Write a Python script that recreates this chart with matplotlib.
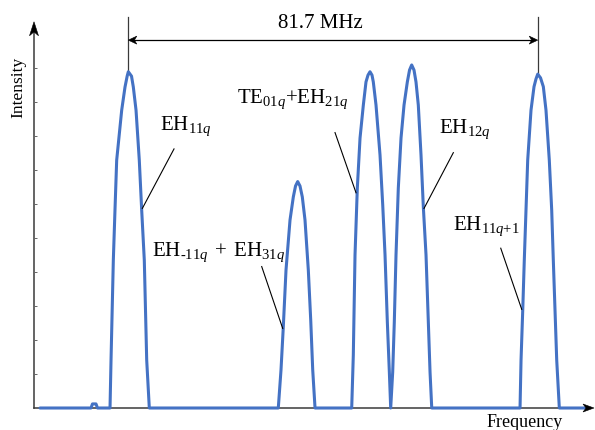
import numpy as np
import matplotlib
matplotlib.use("Agg")
import matplotlib.pyplot as plt
from matplotlib.patches import Polygon
from matplotlib.transforms import ScaledTranslation
from matplotlib.markers import TICKRIGHT

plt.rcParams["font.family"] = ["Liberation Serif", "DejaVu Serif"]
plt.rcParams["mathtext.fontset"] = "custom"
plt.rcParams["mathtext.rm"] = "Liberation Serif"
plt.rcParams["mathtext.it"] = "Liberation Serif:italic"
plt.rcParams["mathtext.bf"] = "Liberation Serif:bold"

# ---- transmission spectrum, frequency in MHz, intensity in a.u. ----
bump_freq = [11.37, 11.67, 12.37, 12.67]
bump_int = [0, 0.12, 0.12, 0]

p1_freq = [15.17, 15.37, 15.83, 16.16, 16.50, 17.50, 18.16, 18.59, 18.82,
           19.46, 19.82, 20.36, 21.01, 21.49, 22.01, 22.49, 23.01]
p1_int = [0, 1.41, 4.35, 5.82, 7.29, 8.76, 9.44, 9.76, 9.89,
          9.76, 9.44, 8.76, 7.29, 5.82, 4.35, 1.41, 0]

p2_freq = [48.75, 49.29, 49.75, 50.29, 51.09, 51.75, 52.19, 52.62,
           53.08, 53.54, 54.08, 54.74, 55.22, 55.62, 56.08]
p2_int = [0, 1.12, 2.39, 4.06, 5.53, 6.21, 6.53, 6.66,
          6.53, 6.21, 5.53, 4.06, 2.59, 1.12, 0]

p3_freq = [63.40, 63.72, 64.06, 64.52, 65.06, 65.72, 66.25, 66.65, 67.05,
           67.45, 67.71, 68.25, 69.05, 69.59, 70.05, 70.51, 70.91, 71.18]
p3_int = [0, 1.56, 4.50, 6.47, 7.94, 8.91, 9.59, 9.79, 9.89,
          9.79, 9.59, 8.91, 7.44, 5.97, 4.50, 2.53, 1.06, 0]

p4_freq = [71.18, 71.58, 71.90, 72.24, 72.70, 73.24, 73.84, 74.50, 74.94, 75.37,
           75.83, 76.23, 76.69, 77.23, 77.69, 78.23, 78.69, 79.03, 79.37]
p4_int = [0, 1.06, 2.53, 4.50, 6.47, 7.94, 8.91, 9.59, 9.94, 10.09,
          9.94, 9.59, 8.91, 7.44, 5.92, 4.50, 2.53, 1.06, 0]

p5_freq = [96.99, 97.19, 97.53, 97.84, 98.52, 99.18, 99.78, 100.18, 100.52,
           101.08, 101.64, 102.17, 102.83, 103.31, 103.63, 104.31, 104.83]
p5_int = [0, 1.41, 2.88, 4.35, 7.29, 8.76, 9.45, 9.68, 9.82,
          9.71, 9.45, 8.76, 7.29, 5.82, 4.35, 1.41, 0]

scan_start, scan_end = 1.2, 109.96

# free spectral range between EH11q and EH11q+1
fsr = 81.7
fsr_start = 18.82

# mode labels: text, anchor (left, baseline), leader start, leader end on the curve
mode_labels = [r"$\mathrm{EH}_{11q}$",
               "$\\mathrm{EH}_{\u2010 11q}\\;+\\;\\mathrm{EH}_{31q}$",
               r"$\mathrm{TE}_{01q}$+$\mathrm{EH}_{21q}$",
               r"$\mathrm{EH}_{12q}$",
               r"$\mathrm{EH}_{11q\mathrm{+}1}$"]
label_pos = [(25.14, 8.18), (23.49, 4.47), (40.51, 8.97), (80.88, 8.09), (83.56, 5.24)]
leader_from = [(27.94, 7.62), (45.44, 4.16), (60.07, 8.10), (83.68, 7.51), (93.14, 4.70)]
leader_to = [(21.62, 5.87), (49.63, 2.34), (64.26, 6.33), (77.83, 5.87), (97.33, 2.90)]

y_ticks = list(range(1, 11))

# ---- figure ----
fig = plt.figure(figsize=(5.95, 4.3), dpi=100)
ax = fig.add_axes([0, 0, 1, 1])
ax.set_xlim(-6.785, 111.95)
ax.set_ylim(-0.647, 12.0)
ax.axis("off")

axis_col = "#3a3a3a"
blue = "#4472C4"


def head(x, y, angle, length, width, color):
    """Concave (stealth) arrow head with its tip at data point (x, y)."""
    L, W = length / 100.0, width / 100.0
    pts = np.array([(0, 0), (-L, W / 2), (-0.72 * L, 0), (-L, -W / 2)])
    a = np.deg2rad(angle)
    rot = np.array([[np.cos(a), -np.sin(a)], [np.sin(a), np.cos(a)]])
    pts = pts @ rot.T
    tr = fig.dpi_scale_trans + ScaledTranslation(x, y, ax.transData)
    ax.add_patch(Polygon(pts, closed=True, transform=tr, fc=color, ec=color,
                         lw=0.4, zorder=5))


# axes with arrows
x_end, y_end = 111.75, 11.36
ax.plot([0, x_end - 1.0], [0, 0], color=axis_col, lw=1.1, zorder=2)
ax.plot([0, 0], [0, y_end - 0.2], color=axis_col, lw=1.1, zorder=2)
head(x_end, 0, 0, 11, 8, "black")
head(0, y_end, 90, 14, 9, "black")
ax.plot(np.zeros(len(y_ticks)), y_ticks, linestyle="none", marker=TICKRIGHT,
        markersize=2.2, color="#666666", markeredgewidth=0.7)

ax.text(-3.19, 9.43, "Intensity", rotation=90, ha="center", va="center",
        fontsize=12.5)
ax.text(90.4, -0.55, "Frequency", ha="left", va="baseline", fontsize=13)

# spectrum trace
freq = np.concatenate([[scan_start], bump_freq, p1_freq, p2_freq, p3_freq,
                       p4_freq[1:], p5_freq, [scan_end]])
inten = np.concatenate([[0], bump_int, p1_int, p2_int, p3_int,
                        p4_int[1:], p5_int, [0]])
ax.plot(freq, inten, color=blue, lw=2.2, solid_joinstyle="round",
        solid_capstyle="round", zorder=3)

# FSR dimension marker
fsr_end = fsr_start + fsr
dim_y, dim_top = 10.82, 11.51
ax.plot([fsr_start, fsr_start], [max(p1_int), dim_top], color=axis_col, lw=0.9)
ax.plot([fsr_end, fsr_end], [max(p5_int), dim_top], color=axis_col, lw=0.9)
ax.plot([fsr_start + 0.5, fsr_end - 0.5], [dim_y, dim_y], color="black", lw=0.9)
head(fsr_start, dim_y, 180, 8.5, 8, "black")
head(fsr_end, dim_y, 0, 8.5, 8, "black")
ax.text(57.2, 11.18, f"{fsr} MHz", ha="center", va="baseline", fontsize=15)

# mode labels and leader lines
for txt, (tx, ty), (x0, y0), (x1, y1) in zip(mode_labels, label_pos,
                                             leader_from, leader_to):
    ax.text(tx, ty, txt, ha="left", va="baseline", fontsize=15)
    ax.plot([x0, x1], [y0, y1], color="black", lw=0.8, zorder=4)

fig.savefig("out.png", dpi=100)
